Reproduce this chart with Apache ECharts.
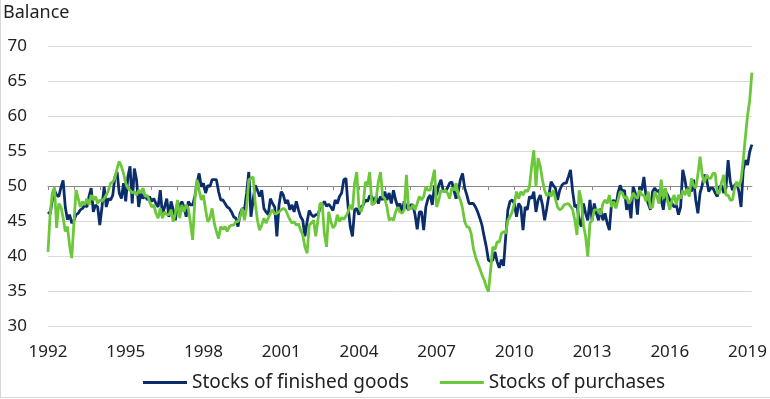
<!DOCTYPE html>
<html><head><meta charset="utf-8">
<script src="https://cdn.jsdelivr.net/npm/echarts/dist/echarts.min.js"></script>
<style>html,body{margin:0;padding:0;background:#fff}#c{width:770px;height:399px}</style>
</head><body><div id="c"></div>
<script>
const startYear = 1992;
const tickYears = ['1992','1995','1998','2001','2004','2007','2010','2013','2016','2019'];
const seriesNames = ['Stocks of finished goods', 'Stocks of purchases'];

const finishedGoods = [
46.3,46.0,48.0,49.4,48.7,48.5,49.8,50.8,47.0,45.2,45.9,44.7,
45.1,45.9,46.1,46.6,46.8,47.3,47.0,48.5,49.7,46.3,47.3,47.0,
44.4,47.0,49.9,47.0,48.2,48.0,48.7,51.3,52.0,49.0,48.2,50.4,
47.8,51.3,52.8,47.5,52.5,50.9,47.0,49.0,48.2,48.7,48.0,48.5,
47.8,48.2,47.5,47.0,
49.4,45.9,47.0,48.2,45.6,47.8,46.6,45.1,47.8,46.8,47.8,47.0,
45.6,47.8,47.3,47.3,48.5,50.4,51.8,49.9,50.4,49.0,50.1,49.9,
50.9,50.9,50.9,49.2,48.0,48.0,47.5,47.0,46.8,46.3,45.6,45.4,
44.2,46.1,46.8,46.6,49.0,52.0,45.6,48.0,50.1,49.4,48.5,49.4,
46.8,46.3,45.9,48.2,
47.5,47.0,42.8,47.3,49.2,48.7,47.5,48.0,46.6,47.3,46.3,47.8,
46.6,45.6,45.1,42.8,44.9,46.5,45.9,45.6,45.9,45.9,46.8,47.3,
47.8,47.1,47.4,47.0,46.5,48.0,47.5,48.5,49.0,50.9,51.1,47.0,
44.2,42.8,46.6,46.8,45.9,47.0,47.3,48.0,47.8,48.6,48.5,47.5,
48.5,47.5,48.5,48.0,
49.2,48.0,49.0,47.5,49.4,48.0,47.0,47.5,46.3,47.8,47.0,46.6,
47.3,47.3,45.9,43.8,46.3,46.3,43.7,47.0,48.2,48.7,47.3,50.1,
48.7,50.1,50.9,49.4,49.2,49.7,50.4,50.6,49.4,48.2,49.2,50.9,
51.8,49.7,48.7,47.5,47.5,47.5,47.0,46.3,45.4,44.4,42.8,41.3,
39.4,39.2,39.4,40.6,39.2,38.3,39.5,
38.6,42.8,46.6,47.8,48.0,47.5,45.6,47.5,47.0,43.7,47.0,46.6,
48.5,48.2,49.2,46.3,48.0,48.7,47.3,45.1,46.8,48.7,50.6,50.1,
49.7,48.0,49.4,50.1,50.4,50.4,51.3,52.3,49.2,47.0,47.3,45.1,
44.2,47.5,46.1,45.1,48.0,45.1,47.5,46.1,45.1,46.8,45.1,46.1,
44.7,43.7,47.5,48.0,47.0,49.0,
50.1,49.2,49.4,46.6,47.8,45.4,49.9,49.0,45.9,49.9,49.4,51.3,
48.5,47.5,46.6,49.2,49.7,49.2,49.4,48.0,46.6,49.2,48.7,48.0,
47.5,47.0,47.3,45.9,47.0,52.3,50.9,49.0,49.7,49.2,50.9,48.0,
46.1,49.0,50.1,51.6,51.1,49.2,49.7,49.7,49.0,48.5,49.9,50.1,
49.0,49.7,53.7,50.6,49.4,50.1,50.4,49.2,47.0,52.3,53.7,53.0,
54.9,55.9
];

const purchases = [
40.6,46.0,49.0,49.8,44.0,47.5,47.0,45.5,43.5,44.2,41.5,39.7,
44.7,49.4,48.2,47.0,47.8,47.3,48.2,47.3,48.7,48.0,48.5,47.5,
48.0,47.8,48.2,48.7,49.4,50.4,50.6,51.1,52.5,53.5,52.8,51.8,
50.4,49.7,49.4,49.0,49.2,48.7,49.4,49.0,49.7,48.5,48.7,47.8,
47.0,47.3,46.1,45.4,
46.8,45.4,46.3,45.9,45.9,46.6,44.9,46.1,48.0,45.4,47.3,46.3,
47.3,46.8,44.7,42.3,48.0,50.9,49.4,48.0,48.7,46.6,44.9,45.4,
46.8,44.7,43.5,42.5,44.2,43.8,44.2,43.5,44.2,44.4,44.4,44.9,
44.9,45.6,46.8,45.1,47.0,50.9,51.1,51.3,47.5,45.1,43.7,44.4,
45.4,44.7,45.4,46.1,
46.6,46.0,46.1,46.3,46.6,46.8,46.6,45.9,45.2,44.7,44.9,44.4,
44.6,43.7,43.0,41.3,40.4,44.4,44.7,45.1,42.8,45.1,47.5,47.5,
43.2,41.3,46.3,44.9,44.0,44.4,45.9,44.9,45.5,45.2,45.7,46.3,
47.3,46.6,50.4,52.0,47.0,46.3,47.3,50.6,50.1,52.0,47.3,47.5,
48.2,50.6,52.0,48.5,
48.2,47.0,45.1,45.4,45.1,46.3,47.0,46.3,46.1,46.6,51.6,46.6,
46.8,47.3,46.6,47.5,48.5,48.0,48.5,49.9,49.4,49.4,50.9,52.3,
47.0,48.0,49.4,49.2,49.4,49.0,48.2,49.7,49.4,50.4,48.7,48.0,
46.8,44.9,44.2,44.1,43.2,41.1,39.9,39.0,38.2,37.3,36.6,35.6,
34.9,38.0,41.3,40.9,42.0,42.0,43.2,
43.5,43.2,45.1,45.6,46.3,47.5,49.2,48.2,49.2,48.7,49.4,49.2,
49.9,52.8,55.1,49.9,54.0,52.8,50.9,49.4,48.6,49.0,48.5,49.4,
48.2,47.0,46.6,46.8,47.3,47.4,47.5,47.1,46.6,45.1,43.0,49.4,
48.0,44.4,42.8,39.9,44.7,45.1,46.6,46.6,46.6,45.9,47.5,48.0,
47.5,48.7,47.0,47.8,46.8,48.0,
49.2,49.0,48.2,48.5,47.5,48.0,49.0,48.5,48.2,49.4,48.7,48.7,
47.8,49.2,46.8,47.0,49.2,48.5,47.5,50.9,48.2,49.7,47.8,46.6,
48.0,48.7,47.3,48.7,48.2,49.4,48.7,49.6,48.5,51.1,50.1,49.7,
51.6,54.2,51.6,50.4,51.6,51.1,51.1,51.8,51.8,49.0,49.0,50.6,
51.6,48.7,48.7,48.0,48.0,49.7,50.6,49.9,50.9,53.7,57.0,60.1,
62.2,66.2
];

const categories = finishedGoods.map((_, i) =>
  (startYear + Math.floor(i / 12)) + '-' + String(i % 12 + 1).padStart(2, '0'));

const NAVY = '#0c2d6b';
const GREEN = '#6cc73a';
const FONT = '"Noto Sans", "Open Sans", sans-serif';

const chart = echarts.init(document.getElementById('c'), null, {renderer: 'canvas'});
chart.setOption({
  animation: false,
  backgroundColor: '#fff',
  grid: {left: 48, right: 15, top: 46, bottom: 73, containLabel: false},
  xAxis: [
    {
      type: 'category', data: categories, boundaryGap: false, position: 'bottom',
      axisLine: {show: false}, axisTick: {show: false}, splitLine: {show: false},
      axisLabel: {
        interval: (i, v) => v.slice(5) === '01' && tickYears.includes(v.slice(0, 4)),
        formatter: v => v.slice(0, 4),
        fontSize: 17, color: '#222', margin: 18, fontFamily: FONT
      }
    },
    {
      type: 'category', data: categories, boundaryGap: false, position: 'bottom', offset: -140, z: 3,
      axisLine: {show: true, lineStyle: {color: '#8a8a8a', width: 1}},
      axisTick: {show: true, interval: (i) => i % 12 === 0, length: 4, lineStyle: {color: '#8a8a8a'}},
      axisLabel: {show: false}, splitLine: {show: false}
    }
  ],
  yAxis: {
    type: 'value', min: 30, max: 70, interval: 5,
    axisLine: {show: false}, axisTick: {show: false},
    axisLabel: {fontSize: 17, color: '#222', margin: 21, fontFamily: FONT},
    splitLine: {lineStyle: {color: '#d9d9d9', width: 1}}
  },
  legend: {
    left: 138, top: 368, itemWidth: 44, itemHeight: 3, itemGap: 31, icon: 'rect',
    textStyle: {fontSize: 19, color: '#222', fontFamily: FONT},
    data: seriesNames
  },
  graphic: [
    {type: 'text', left: 3, top: 4, style: {text: 'Balance', font: '18px ' + FONT, fill: '#222'}},
    {type: 'line', shape: {x1: 0.5, y1: 0, x2: 0.5, y2: 398}, style: {stroke: '#d9d9d9', lineWidth: 1}},
    {type: 'line', shape: {x1: 0, y1: 397.5, x2: 770, y2: 397.5}, style: {stroke: '#d9d9d9', lineWidth: 1}}
  ],
  series: [
    {name: seriesNames[0], type: 'line', data: finishedGoods, showSymbol: false, symbol: 'none',
     lineStyle: {color: NAVY, width: 2.8}, itemStyle: {color: NAVY}},
    {name: seriesNames[1], type: 'line', data: purchases, showSymbol: false, symbol: 'none',
     lineStyle: {color: GREEN, width: 2.8}, itemStyle: {color: GREEN}}
  ]
});
</script></body></html>
